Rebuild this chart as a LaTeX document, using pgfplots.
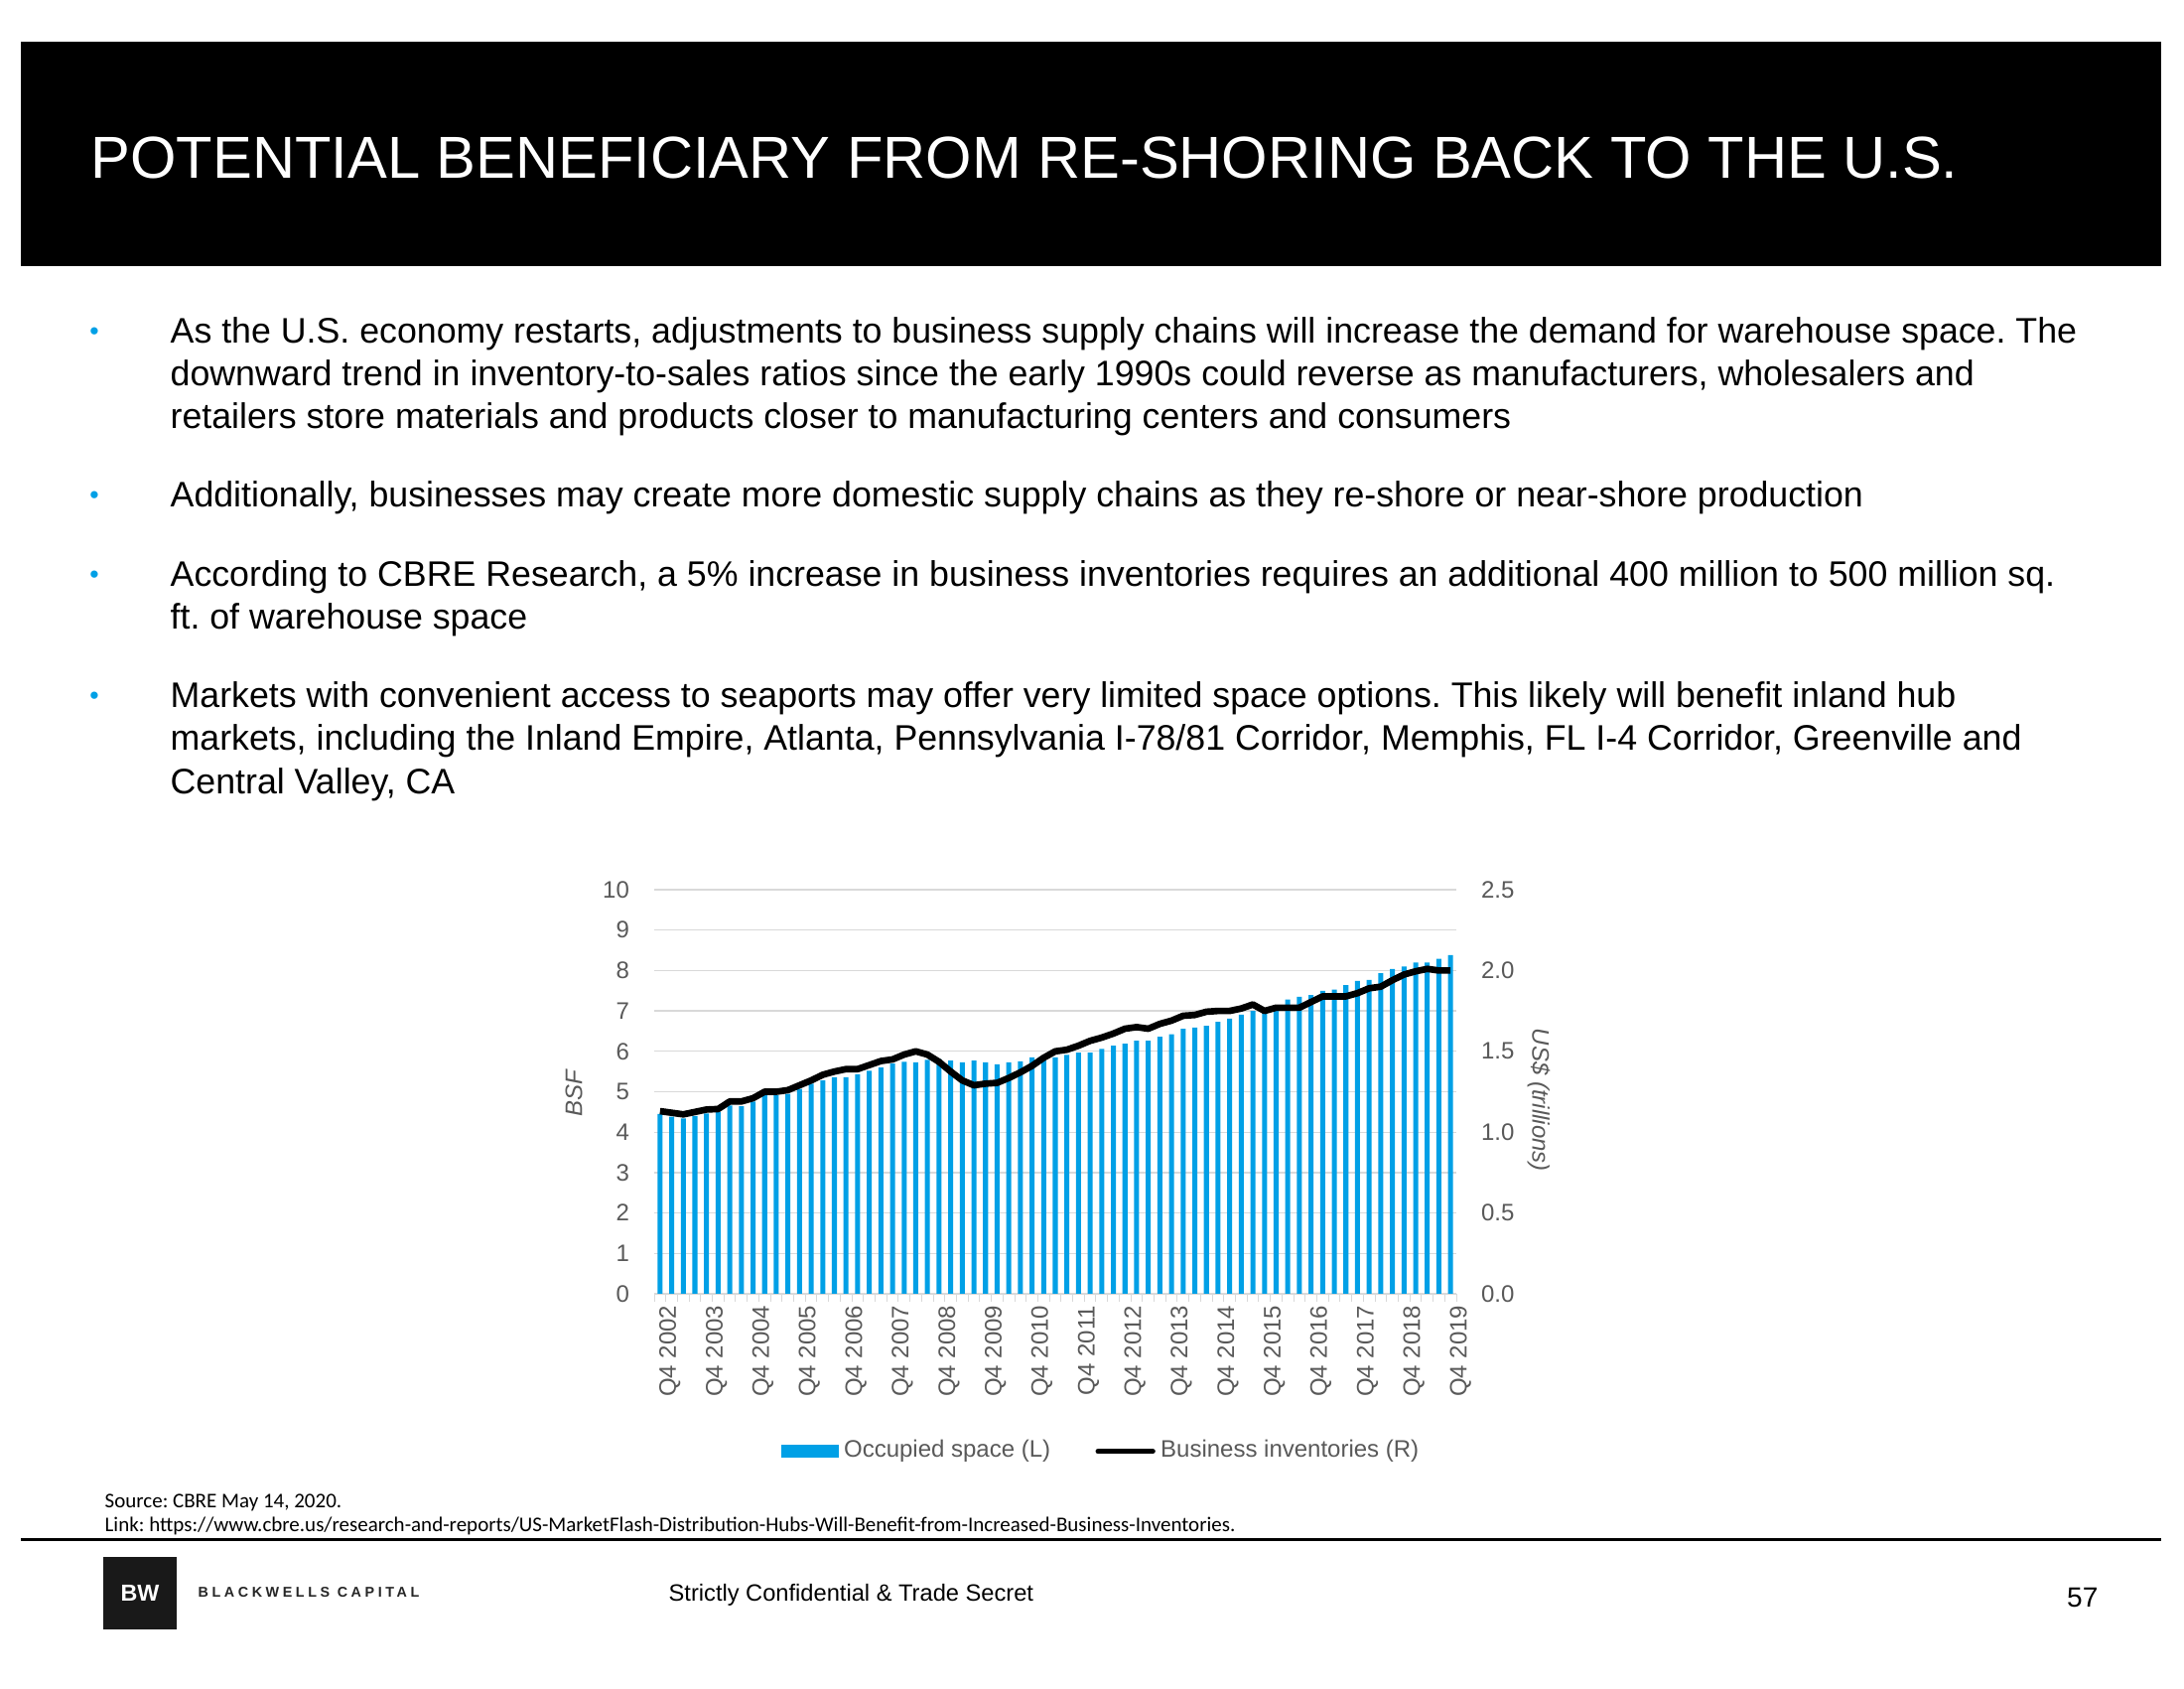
\documentclass[border=0pt]{standalone}
\usepackage{fontspec}
\setmainfont{Liberation Sans}
\newfontfamily\calibri{Carlito}
\usepackage{pgfplots}
\pgfplotsset{compat=1.18}
\definecolor{cblue}{HTML}{00A0E6}
\definecolor{tgray}{HTML}{595959}
\definecolor{ggray}{HTML}{D9D9D9}
\newcommand{\bodyfont}{\fontsize{10.72}{12.8}\selectfont}
\newcommand{\tickfont}{\fontsize{7.2}{8.6}\selectfont}
\frenchspacing
\begin{document}
\begin{tikzpicture}[x=0.3pt,y=0.3pt]
\fill[white] (0,0) rectangle (2200,1700);
% title bar
\fill[black] (21,1658) rectangle (2177,1432);
\node[anchor=base west, inner sep=0pt, text=white, font=\fontsize{17.9}{21}\selectfont] at (91,1520) {POTENTIAL BENEFICIARY FROM RE-SHORING BACK TO THE U.S.};
% bullets
\foreach \yy in {1354,1189,1109,987} {
  \node[anchor=base, inner sep=0pt, text=cblue, font=\fontsize{8}{9}\selectfont] at (95,\yy+3) {•};
}
\begin{scope}[every node/.style={anchor=base west, inner sep=0pt, font=\bodyfont}]
\node at (171,1354) {As the U.S. economy restarts, adjustments to business supply chains will increase the demand for warehouse space. The};
\node at (171,1311) {downward trend in inventory-to-sales ratios since the early 1990s could reverse as manufacturers, wholesalers and};
\node at (171,1268) {retailers store materials and products closer to manufacturing centers and consumers};
\node at (171,1189) {Additionally, businesses may create more domestic supply chains as they re-shore or near-shore production};
\node at (171,1109) {According to CBRE Research, a 5\% increase in business inventories requires an additional 400 million to 500 million sq.};
\node at (171,1066) {ft. of warehouse space};
\node at (171,987) {Markets with convenient access to seaports may offer very limited space options. This likely will benefit inland hub};
\node at (171,944) {markets, including the Inland Empire, Atlanta, Pennsylvania I-78/81 Corridor, Memphis, FL I-4 Corridor, Greenville and};
\node at (171,900) {Central Valley, CA};
\end{scope}

% chart: bars
\begin{axis}[
  at={(197.7pt,119.1pt)}, anchor=south west,
  scale only axis, width=242.4pt, height=122.1pt,
  xmin=-0.5, xmax=68.5, ymin=0, ymax=10,
  axis x line*=bottom, axis y line*=left,
  x axis line style={ggray, line width=0.4pt, -},
  y axis line style={draw=none},
  xtick={0,4,...,68},
  xticklabels={Q4 2002,Q4 2003,Q4 2004,Q4 2005,Q4 2006,Q4 2007,Q4 2008,Q4 2009,Q4 2010,Q4 2011,Q4 2012,Q4 2013,Q4 2014,Q4 2015,Q4 2016,Q4 2017,Q4 2018,Q4 2019},
  minor xtick={-0.5,0.5,...,68.5},
  ytick={0,1,...,10},
  major tick length=0pt, minor tick length=2.5pt, tick align=outside,
  every minor tick/.style={ggray, line width=0.3pt},
  ymajorgrids, major grid style={ggray, line width=0.4pt},
  tick label style={font=\tickfont, text=tgray},
  xticklabel style={rotate=90, anchor=east, yshift=-3pt},
  yticklabel style={xshift=-4pt},
  /pgf/number format/assume math mode=true,
  ybar, bar width=0.43,
]
\addplot[fill=cblue, draw=none] coordinates {
(0,4.45)(1,4.38)(2,4.34)(3,4.40)(4,4.46)(5,4.50)(6,4.66)(7,4.64)(8,4.76)(9,4.91)
(10,4.91)(11,4.95)(12,5.07)(13,5.20)(14,5.28)(15,5.36)(16,5.36)(17,5.43)(18,5.52)(19,5.60)
(20,5.70)(21,5.74)(22,5.73)(23,5.79)(24,5.81)(25,5.77)(26,5.73)(27,5.77)(28,5.73)(29,5.68)
(30,5.73)(31,5.75)(32,5.85)(33,5.81)(34,5.85)(35,5.91)(36,5.97)(37,5.97)(38,6.06)(39,6.14)
(40,6.19)(41,6.26)(42,6.26)(43,6.36)(44,6.42)(45,6.56)(46,6.59)(47,6.63)(48,6.73)(49,6.81)
(50,6.91)(51,7.00)(52,6.97)(53,7.00)(54,7.28)(55,7.35)(56,7.39)(57,7.50)(58,7.53)(59,7.64)
(60,7.74)(61,7.77)(62,7.93)(63,8.04)(64,8.10)(65,8.20)(66,8.20)(67,8.29)(68,8.38)};
\end{axis}

% chart: line
\begin{axis}[
  at={(197.7pt,119.1pt)}, anchor=south west,
  scale only axis, width=242.4pt, height=122.1pt,
  xmin=-0.5, xmax=68.5, ymin=0, ymax=2.5,
  axis y line*=right, axis x line=none,
  y axis line style={draw=none},
  ytick={0,0.5,1,1.5,2,2.5},
  major tick length=0pt,
  tick label style={font=\tickfont, text=tgray},
  yticklabel style={/pgf/number format/.cd, fixed, fixed zerofill, precision=1, /tikz/.cd, xshift=4pt},
  /pgf/number format/assume math mode=true,
  legend style={at={(0.559,-0.39)}, anchor=center, draw=none, fill=none, legend columns=2,
    font=\tickfont, text=tgray, /tikz/every even column/.append style={column sep=12pt},
    nodes={inner xsep=1.6pt}},
  legend cell align=left,
]
\addlegendimage{legend image code/.code={\fill[cblue] (0pt,-1.8pt) rectangle (17pt,1.8pt);}}
\addlegendentry{Occupied space (L)}
\addplot[black, line width=2pt, line join=round,
  legend image code/.code={\draw[black,line width=1.6pt,line cap=round] (0pt,0pt) -- (16.5pt,0pt);}] coordinates {
(0,1.13)(1,1.12)(2,1.11)(3,1.125)(4,1.14)(5,1.143)(6,1.19)(7,1.19)(8,1.21)(9,1.25)
(10,1.25)(11,1.26)(12,1.29)(13,1.32)(14,1.355)(15,1.375)(16,1.39)(17,1.39)(18,1.415)(19,1.44)
(20,1.45)(21,1.48)(22,1.50)(23,1.48)(24,1.435)(25,1.375)(26,1.32)(27,1.29)(28,1.30)(29,1.305)
(30,1.335)(31,1.37)(32,1.41)(33,1.46)(34,1.50)(35,1.51)(36,1.535)(37,1.565)(38,1.585)(39,1.61)
(40,1.64)(41,1.65)(42,1.64)(43,1.67)(44,1.69)(45,1.72)(46,1.725)(47,1.745)(48,1.75)(49,1.75)
(50,1.765)(51,1.79)(52,1.75)(53,1.77)(54,1.77)(55,1.77)(56,1.805)(57,1.84)(58,1.84)(59,1.84)
(60,1.86)(61,1.89)(62,1.90)(63,1.94)(64,1.975)(65,1.995)(66,2.01)(67,2.00)(68,2.00)};
\addlegendentry{Business inventories (R)}
\end{axis}

% axis titles
\node[rotate=90, text=tgray, font=\tickfont\itshape, inner sep=0pt] at (578,599) {BSF};
\node[rotate=-90, text=tgray, font=\tickfont\itshape, inner sep=0pt] at (1550,592) {US\$ (trillions)};

% source
\node[anchor=base west, inner sep=0pt, font=\calibri\fontsize{6.3}{7.5}\selectfont] at (105,182) {Source: CBRE May 14, 2020.};
\node[anchor=base west, inner sep=0pt, font=\calibri\fontsize{6.3}{7.5}\selectfont] at (105,158) {Link: https://www.cbre.us/research-and-reports/US-MarketFlash-Distribution-Hubs-Will-Benefit-from-Increased-Business-Inventories.};
\draw[line width=0.9pt] (21,150) -- (2177,150);

% footer
\fill[black!90] (104,132) rectangle (178,59);
\node[text=white, font=\fontsize{7}{8}\selectfont\bfseries, inner sep=0pt] at (141,95.5) {BW};
\node[anchor=base west, inner sep=0pt, text=black!85, font=\fontsize{4.3}{5}\selectfont\bfseries\addfontfeatures{LetterSpace=25}] at (199,92) {BLACKWELLS CAPITAL};
\node[anchor=base west, inner sep=0pt, font=\fontsize{7.1}{8.5}\selectfont] at (673,88) {Strictly Confidential \& Trade Secret};
\node[anchor=base east, inner sep=0pt, font=\fontsize{8.4}{10}\selectfont] at (2114,82) {57};
\end{tikzpicture}
\end{document}
